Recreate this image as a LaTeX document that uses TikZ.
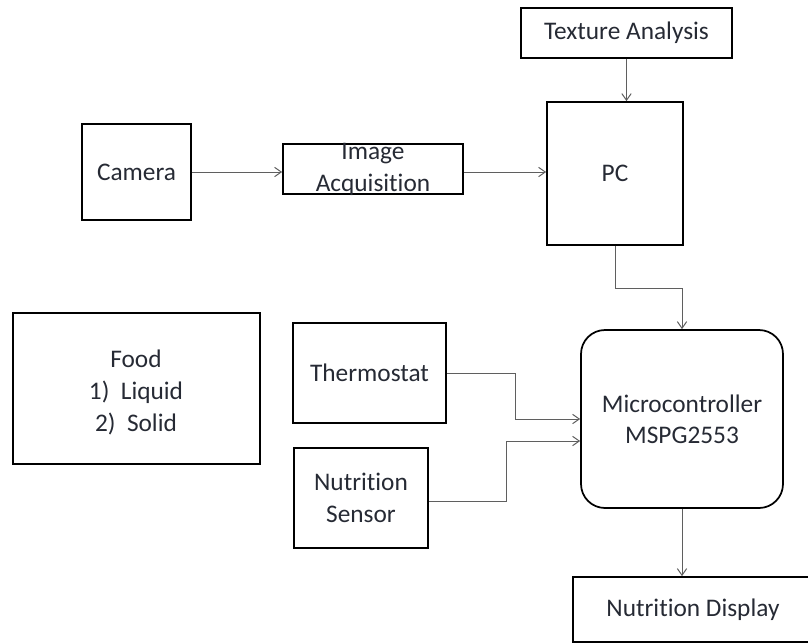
\documentclass[tikz,border=0pt]{standalone}
\usepackage{fontspec}
\setmainfont{Carlito}[Ligatures={TeX,NoCommon}]
\usetikzlibrary{calc,arrows.meta}
\definecolor{txtcol}{RGB}{38,42,52}
\definecolor{lnkcol}{RGB}{95,95,95}
\newcommand{\pxu}{0.75pt}

\begin{document}
\begin{tikzpicture}[x=0.75pt,y=0.75pt,yscale=-1,xscale=1,
  blk/.style={draw=black, line width=1.3pt, inner sep=0.75pt, align=center,
    text=txtcol, font=\fontsize{19}{23.5}\selectfont},
  lbl/.style={inner sep=0.75pt, align=center, text=txtcol,
    font=\fontsize{19}{24}\selectfont},
  lnk/.style={draw=lnkcol, line width=0.75pt, -{Straight Barb[length=5pt,width=7pt]}}]
\useasboundingbox (0,0) rectangle (808,643);

%Shape: Rectangle
\node [blk, minimum width=211*\pxu, minimum height=50*\pxu] (tex) at (626.5,33) {Texture Analysis};
%Shape: Rectangle
\node [blk, minimum width=136*\pxu, minimum height=143*\pxu] (pc) at (615,173.5) {PC};
%Shape: Rectangle
\node [blk, minimum width=109*\pxu, minimum height=96*\pxu] (cam) at (136.5,172) {Camera};
%Shape: Rectangle
\node [blk, minimum width=180*\pxu, minimum height=50*\pxu] (img) at (373,169) {};
% Text Node
\node [lbl] (imgtxt) at (img.center) {Image\\Acquisition};
%Shape: Rectangle
\node [blk, minimum width=247*\pxu, minimum height=151*\pxu] (food) at (136.5,388.5) {};
% Text Node
\node [lbl] (foodtxt) at (136,392) {Food\\1)~~Liquid\\2)~~Solid};
%Shape: Rectangle
\node [blk, minimum width=153*\pxu, minimum height=100*\pxu] (therm) at (369.5,373) {Thermostat};
%Shape: Rectangle
\node [blk, minimum width=134*\pxu, minimum height=100*\pxu] (sens) at (361,498) {Nutrition\\Sensor};
%Rounded Rect
\node [blk, rounded corners=18pt, minimum width=202*\pxu, minimum height=178*\pxu] (mcu) at (682,419) {Microcontroller\\MSPG2553};
%Shape: Rectangle
\node [blk, minimum width=240*\pxu, minimum height=65*\pxu] (disp) at (693,609.5) {Nutrition Display};

%Straight Lines
\draw [lnk] (tex.south) -- (tex.south |- pc.north);
%Straight Lines
\draw [lnk] (cam.east |- 0,172) -- (img.west |- 0,172);
%Straight Lines
\draw [lnk] (img.east |- 0,172) -- (pc.west |- 0,172);
%Elbow Lines
\draw [lnk] (pc.south) -- ++(0,43) -| (mcu.north);
%Elbow Lines
\draw [lnk] (therm.east) -- ++(69,0) |- (mcu.west);
%Elbow Lines
\draw [lnk] (sens.east |- 0,501) -- ++(78,0) |- ($(mcu.west)+(0,22)$);
%Straight Lines
\draw [lnk] (mcu.south) -- (mcu.south |- disp.north);

\end{tikzpicture}
\end{document}
